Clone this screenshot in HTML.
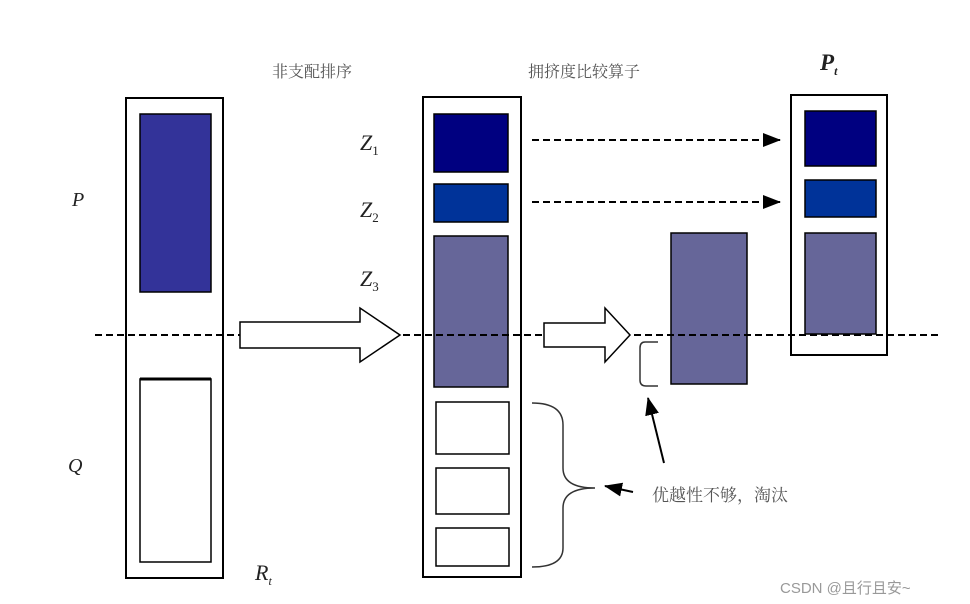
<!DOCTYPE html>
<html><head><meta charset="utf-8"><style>
html,body{margin:0;padding:0;background:#fff;}
svg{display:block;}
.cn{font-family:"Liberation Serif","Noto Serif CJK SC",serif;fill:#555;}
.it{font-family:"Liberation Serif",serif;font-style:italic;fill:#222;}
</style></head><body>
<svg width="970" height="604" viewBox="0 0 970 604" xmlns="http://www.w3.org/2000/svg">
<defs><marker id="ah" markerWidth="10" markerHeight="10" refX="9" refY="5" orient="auto" markerUnits="userSpaceOnUse"><path d="M0,0 L10,5 L0,10 Z" fill="#000"/></marker>
<marker id="ah2" markerWidth="18" markerHeight="14" refX="17" refY="7" orient="auto" markerUnits="userSpaceOnUse"><path d="M0,0 L18,7 L0,14 Z" fill="#000"/></marker></defs>
<text class="cn" x="272" y="77" font-size="16">非支配排序</text>
<text class="cn" x="528" y="77" font-size="16">拥挤度比较算子</text>
<!-- left column -->
<rect x="126" y="98" width="97" height="480" fill="#fff" stroke="#000" stroke-width="2"/>
<rect x="140" y="114" width="71" height="178" fill="#333399" stroke="#000" stroke-width="1.5"/>
<rect x="140" y="379" width="71" height="183" fill="#fff" stroke="#000" stroke-width="1.5"/>
<line x1="140" y1="379" x2="211" y2="379" stroke="#000" stroke-width="3"/>
<!-- middle column -->
<rect x="423" y="97" width="98" height="480" fill="#fff" stroke="#000" stroke-width="2"/>
<rect x="434" y="114" width="74" height="58" fill="#000080" stroke="#000" stroke-width="1.5"/>
<rect x="434" y="184" width="74" height="38" fill="#003399" stroke="#000" stroke-width="1.5"/>
<rect x="434" y="236" width="74" height="151" fill="#666699" stroke="#000" stroke-width="1.5"/>
<rect x="436" y="402" width="73" height="52" fill="#fff" stroke="#000" stroke-width="1.5"/>
<rect x="436" y="468" width="73" height="46" fill="#fff" stroke="#000" stroke-width="1.5"/>
<rect x="436" y="528" width="73" height="38" fill="#fff" stroke="#000" stroke-width="1.5"/>
<!-- right pieces -->
<rect x="671" y="233" width="76" height="151" fill="#666699" stroke="#000" stroke-width="1.5"/>
<rect x="791" y="95" width="96" height="260" fill="#fff" stroke="#000" stroke-width="2"/>
<rect x="805" y="111" width="71" height="55" fill="#000080" stroke="#000" stroke-width="1.5"/>
<rect x="805" y="180" width="71" height="37" fill="#003399" stroke="#000" stroke-width="1.5"/>
<rect x="805" y="233" width="71" height="101" fill="#666699" stroke="#000" stroke-width="1.5"/>
<!-- dashed line -->
<line x1="95" y1="335" x2="940" y2="335" stroke="#000" stroke-width="2" stroke-dasharray="7,4"/>
<!-- big arrows -->
<path d="M240,322 L360,322 L360,308 L400,335 L360,362 L360,348 L240,348 Z" fill="#fff" stroke="#000" stroke-width="1.5"/>
<path d="M544,323 L605,323 L605,308 L630,335 L605,362 L605,347 L544,347 Z" fill="#fff" stroke="#000" stroke-width="1.5"/>
<!-- dashed arrows -->
<line x1="532" y1="140" x2="780" y2="140" stroke="#000" stroke-width="2" stroke-dasharray="7,4" marker-end="url(#ah2)"/>
<line x1="532" y1="202" x2="780" y2="202" stroke="#000" stroke-width="2" stroke-dasharray="7,4" marker-end="url(#ah2)"/>
<!-- small bracket -->
<path d="M658,342 L645,342 Q640,342 640,348 L640,380 Q640,386 646,386 L658,386" fill="none" stroke="#333" stroke-width="1.5"/>
<!-- brace -->
<path d="M532,403 Q563,403 563,425 L563,468 Q563,488 595,488 Q563,488 563,508 L563,548 Q563,567 532,567" fill="none" stroke="#333" stroke-width="1.5"/>
<line x1="633" y1="492" x2="605" y2="486" stroke="#000" stroke-width="2" marker-end="url(#ah2)"/>
<line x1="664" y1="463" x2="648" y2="398" stroke="#000" stroke-width="2" marker-end="url(#ah2)"/>
<text class="cn" x="652" y="501" font-size="17">优越性不够，淘汰</text>
<!-- labels -->
<text class="it" x="72" y="206" font-size="20">P</text>
<text class="it" x="68" y="472" font-size="20">Q</text>
<text class="it" x="255" y="580" font-size="22">R<tspan font-size="12" dy="5">t</tspan></text>
<text class="it" x="360" y="150" font-size="22">Z<tspan font-size="13" dy="5" font-style="normal">1</tspan></text>
<text class="it" x="360" y="217" font-size="22">Z<tspan font-size="13" dy="5" font-style="normal">2</tspan></text>
<text class="it" x="360" y="286" font-size="22">Z<tspan font-size="13" dy="5" font-style="normal">3</tspan></text>
<text class="it" x="820" y="70" font-size="23" font-weight="bold">P<tspan font-size="12" dy="5">t</tspan></text>
<text x="780" y="593" font-size="15" fill="#999" font-family="Liberation Sans,'Noto Sans CJK SC',sans-serif">CSDN @且行且安~</text>
</svg>
</body></html>
